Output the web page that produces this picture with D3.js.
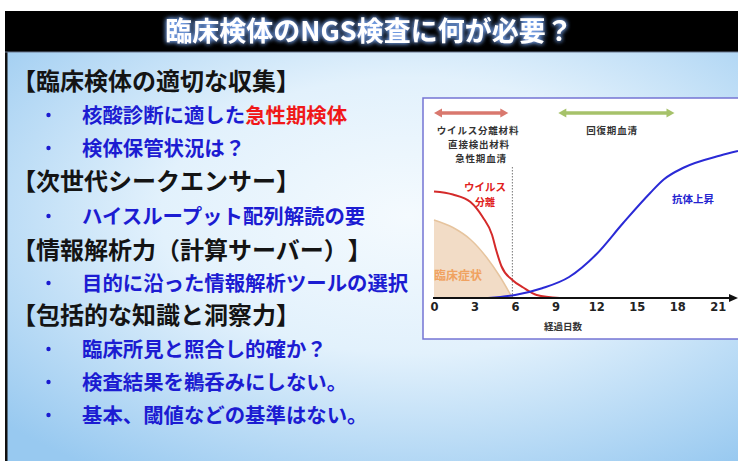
<!DOCTYPE html>
<html>
<head>
<meta charset="utf-8">
<script src="https://cdn.jsdelivr.net/npm/d3@7"></script>
<style>
  html, body { margin: 0; padding: 0; background: #fff; }
  svg { display: block; font-family: "Noto Sans CJK JP", "Noto Sans", sans-serif; text-spacing-trim: space-all; }
</style>
</head>
<body>
<svg id="slide" width="738" height="461"></svg>
<script>
// slide text
const titleText = "臨床検体のNGS検査に何が必要？";
const listRows = [
  { kind: "head", text: "【臨床検体の適切な収集】" },
  { kind: "item", text: "核酸診断に適した", red: "急性期検体" },
  { kind: "item", text: "検体保管状況は？" },
  { kind: "head", text: "【次世代シークエンサー】" },
  { kind: "item", text: "ハイスループット配列解読の要" },
  { kind: "head", text: "【情報解析力（計算サーバー）】" },
  { kind: "item", text: "目的に沿った情報解析ツールの選択" },
  { kind: "head", text: "【包括的な知識と洞察力】" },
  { kind: "item", text: "臨床所見と照合し的確か？" },
  { kind: "item", text: "検査結果を鵜呑みにしない。" },
  { kind: "item", text: "基本、閾値などの基準はない。" }
];
const rowBaselines = [90, 123, 156, 190, 224, 259, 291, 324, 357, 390, 423];

// chart data: [day, relative level 0-100]
const dayTicks = [0, 3, 6, 9, 12, 15, 18, 21];
const virusLevel = [[0, 71], [1.4, 69], [2.7, 64], [3.6, 54], [4.3, 42], [4.6, 32], [5, 21], [5.8, 12], [6.6, 7], [7.6, 2], [9.3, 0]];
const symptomLevel = [[0, 52], [1.4, 47], [2.7, 39], [3.9, 27], [4.9, 14], [5.8, 0]];
const antibodyLevel = [[4, 0], [6, 2], [8, 6.5], [10, 14], [12, 29], [14, 50], [16, 70], [17, 79], [18.5, 87], [21.2, 95], [22.5, 98]];
const acutePhase = [0, 5.5];
const convalescentPhase = [9.2, 17.8];
const acuteCutoff = 5.8;

const svg = d3.select("#slide");
const defs = svg.append("defs");

// background gradient
const bg = defs.append("radialGradient").attr("id", "bg-grad")
  .attr("cx", "55%").attr("cy", "40%").attr("r", "75%");
bg.append("stop").attr("offset", "0%").attr("stop-color", "#f4fafe");
bg.append("stop").attr("offset", "45%").attr("stop-color", "#e2f1fc");
bg.append("stop").attr("offset", "100%").attr("stop-color", "#98c9f0");

const glow = defs.append("filter").attr("id", "glow")
  .attr("x", "-10%").attr("y", "-40%").attr("width", "120%").attr("height", "180%");
glow.append("feGaussianBlur").attr("in", "SourceAlpha").attr("stdDeviation", 2.5).attr("result", "b");
glow.append("feFlood").attr("flood-color", "#7fb0ff").attr("flood-opacity", 0.9);
glow.append("feComposite").attr("in2", "b").attr("operator", "in").attr("result", "g");
const gm = glow.append("feMerge");
gm.append("feMergeNode").attr("in", "g");
gm.append("feMergeNode").attr("in", "g");
gm.append("feMergeNode").attr("in", "SourceGraphic");

// body background
svg.append("rect").attr("x", 5).attr("y", 52).attr("width", 733).attr("height", 409)
  .attr("fill", "url(#bg-grad)");
svg.append("rect").attr("x", 5).attr("y", 52).attr("width", 2.5).attr("height", 409).attr("fill", "#111");

// title band
svg.append("rect").attr("x", 5).attr("y", 11).attr("width", 733).attr("height", 41).attr("fill", "#000");
svg.append("line").attr("x1", 5).attr("x2", 738).attr("y1", 52).attr("y2", 52)
  .attr("stroke", "#6a7890").attr("stroke-width", 1);
svg.append("text")
  .attr("x", 369).attr("y", 41)
  .attr("text-anchor", "middle")
  .attr("fill", "#fff")
  .attr("font-size", 27)
  .attr("font-weight", 700)
  .attr("filter", "url(#glow)")
  .text(titleText);

// left list
const list = svg.append("g");
listRows.forEach((r, i) => {
  const y = rowBaselines[i];
  if (r.kind === "head") {
    list.append("text").attr("x", 12).attr("y", y)
      .attr("font-size", 24).attr("font-weight", 700).attr("fill", "#141414")
      .text(r.text);
  } else {
    list.append("circle").attr("cx", 48.5).attr("cy", y - 8).attr("r", 2.2).attr("fill", "#1a1ad0");
    const t = list.append("text").attr("x", 82).attr("y", y)
      .attr("font-size", 20.4).attr("font-weight", 700).attr("fill", "#1c1cd2");
    t.append("tspan").text(r.text);
    if (r.red) t.append("tspan").attr("fill", "#f01818").text(r.red);
  }
});

// chart panel
const panel = svg.append("g");
panel.append("rect").attr("x", 423).attr("y", 98).attr("width", 320).attr("height", 241)
  .attr("fill", "#fff").attr("stroke", "#7474d4").attr("stroke-width", 1.5);

const x = d3.scaleLinear().domain([0, 22.5]).range([434, 738]);
const y = d3.scaleLinear().domain([0, 100]).range([298, 148]);

// symptom area
panel.append("path")
  .datum(symptomLevel)
  .attr("d", d3.area().x(d => x(d[0])).y0(y(0)).y1(d => y(d[1])).curve(d3.curveMonotoneX))
  .attr("fill", "#f2dcc6");
panel.append("path")
  .datum(symptomLevel)
  .attr("d", d3.line().x(d => x(d[0])).y(d => y(d[1])).curve(d3.curveMonotoneX))
  .attr("fill", "none").attr("stroke", "#e6c49e").attr("stroke-width", 1.5);

// cutoff dotted line
panel.append("line")
  .attr("x1", x(acuteCutoff)).attr("x2", x(acuteCutoff))
  .attr("y1", 167).attr("y2", y(0))
  .attr("stroke", "#777").attr("stroke-width", 1).attr("stroke-dasharray", "1.5,1.5");

const lineGen = d3.line().x(d => x(d[0])).y(d => y(d[1])).curve(d3.curveMonotoneX);
panel.append("path").datum(virusLevel).attr("d", lineGen)
  .attr("fill", "none").attr("stroke", "#d42a2a").attr("stroke-width", 2);
panel.append("path").datum(antibodyLevel).attr("d", lineGen)
  .attr("fill", "none").attr("stroke", "#2a2ad6").attr("stroke-width", 2);

// x axis
const axis = d3.axisBottom(x).tickValues(dayTicks).tickSize(0).tickPadding(5);
const axisG = panel.append("g").attr("transform", `translate(0,${y(0)})`).call(axis);
axisG.select(".domain").remove();
axisG.selectAll("text")
  .attr("font-size", 11.5).attr("font-weight", 700).attr("fill", "#222")
  .attr("font-family", "'DejaVu Sans', sans-serif");
panel.append("line").attr("x1", 433).attr("x2", 732).attr("y1", y(0)).attr("y2", y(0))
  .attr("stroke", "#111").attr("stroke-width", 2);
panel.append("path").attr("d", `M738,${y(0)} L729,${y(0) - 4} L729,${y(0) + 4} Z`).attr("fill", "#111");
panel.append("text").attr("x", 563).attr("y", 330).attr("text-anchor", "middle")
  .attr("font-size", 9.5).attr("font-weight", 700).attr("fill", "#333").text("経過日数");

// phase arrows
function doubleArrow(range, color) {
  const x0 = x(range[0]), x1 = x(range[1]), yy = 113, h = 8, w = 4.5;
  panel.append("line").attr("x1", x0 + 5).attr("x2", x1 - 5).attr("y1", yy).attr("y2", yy)
    .attr("stroke", color).attr("stroke-width", 3.5);
  panel.append("path").attr("d", `M${x0},${yy} L${x0 + h},${yy - w} L${x0 + h},${yy + w} Z`).attr("fill", color);
  panel.append("path").attr("d", `M${x1},${yy} L${x1 - h},${yy - w} L${x1 - h},${yy + w} Z`).attr("fill", color);
}
doubleArrow(acutePhase, "#d9786e");
doubleArrow(convalescentPhase, "#a6c26a");

const labelStyle = s => s.attr("font-size", 9.5).attr("font-weight", 700).attr("fill", "#333")
  .attr("letter-spacing", 0.8).attr("text-anchor", "middle");
panel.append("text").attr("x", 478).attr("y", 134).call(labelStyle).text("ウイルス分離材料");
panel.append("text").attr("x", 479).attr("y", 148).call(labelStyle).text("直接検出材料");
panel.append("text").attr("x", 481).attr("y", 162).call(labelStyle).text("急性期血清");
panel.append("text").attr("x", 612).attr("y", 134).call(labelStyle).text("回復期血清");

panel.append("text").attr("x", 485).attr("y", 190.5).attr("text-anchor", "middle")
  .attr("font-size", 10.5).attr("font-weight", 700).attr("fill", "#e02020").text("ウイルス");
panel.append("text").attr("x", 485).attr("y", 205.5).attr("text-anchor", "middle")
  .attr("font-size", 10).attr("font-weight", 700).attr("fill", "#e02020").text("分離");
panel.append("text").attr("x", 458).attr("y", 280).attr("text-anchor", "middle")
  .attr("font-size", 12).attr("font-weight", 700).attr("fill", "#f0a260").text("臨床症状");
panel.append("text").attr("x", 693).attr("y", 203).attr("text-anchor", "middle")
  .attr("font-size", 10.5).attr("font-weight", 700).attr("fill", "#2424d0").text("抗体上昇");
</script>
</body>
</html>
